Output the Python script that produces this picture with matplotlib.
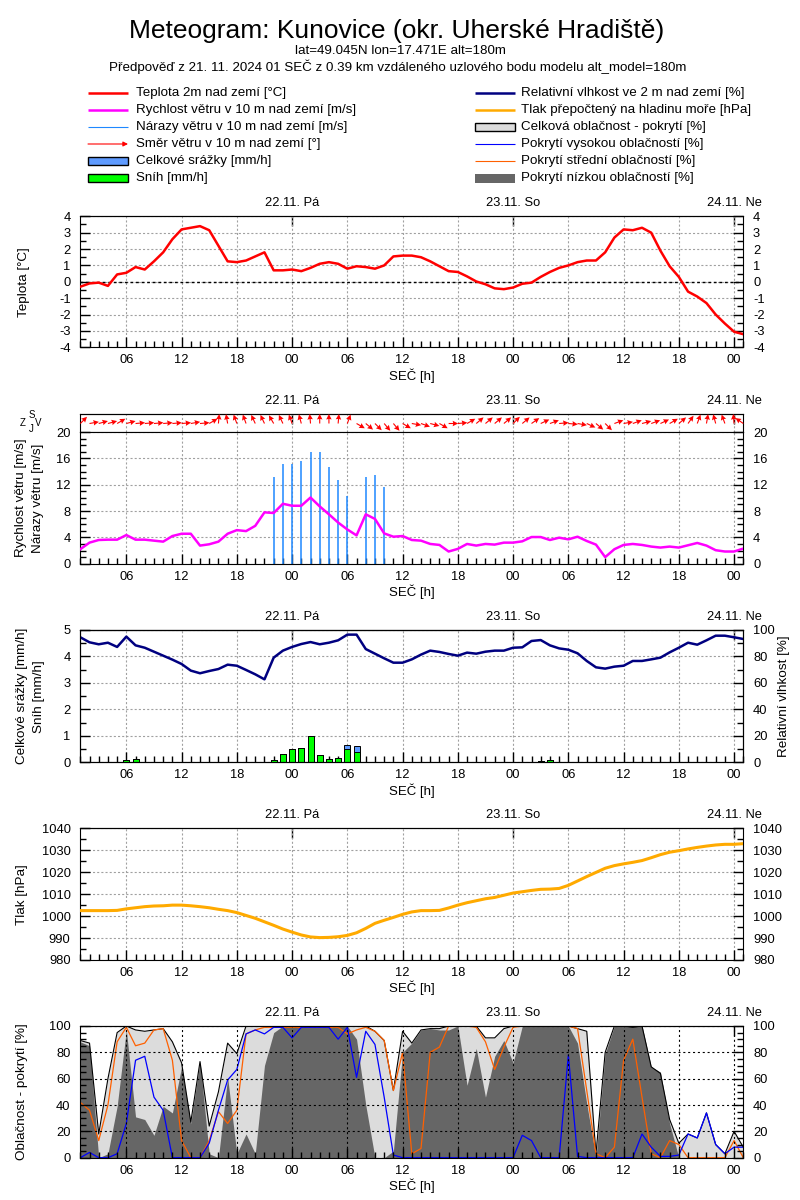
import numpy as np
import matplotlib
matplotlib.use('Agg')
import matplotlib.pyplot as plt
from matplotlib.ticker import MultipleLocator, NullLocator, FixedLocator
from matplotlib.patches import Rectangle

plt.rcParams['font.family'] = ['Liberation Sans', 'DejaVu Sans']
plt.rcParams['lines.scale_dashes'] = False
plt.rcParams['axes.unicode_minus'] = False

# ---------------- data (hours since 21.11. 00 SEČ) ----------------
hours = np.arange(1, 74)
xtick_pos = list(range(6, 73, 6))
xtick_labels = ['06', '12', '18', '00', '06', '12', '18', '00', '06', '12', '18', '00']
date_pos = [24, 48, 72]
date_labels = ['22.11. Pá', '23.11. So', '24.11. Ne']

temperature = [-0.3, -0.1, -0.05, -0.25, 0.45, 0.55, 0.9, 0.75, 1.25, 1.8,
               2.6, 3.2, 3.3, 3.4, 3.15, 2.2, 1.25, 1.2, 1.3, 1.55,
               1.8, 0.7, 0.7, 0.75, 0.65, 0.85, 1.1, 1.2, 1.1, 0.8,
               0.95, 0.9, 0.8, 1.0, 1.55, 1.6, 1.6, 1.5, 1.25, 0.95,
               0.65, 0.6, 0.33, 0.02, -0.15, -0.4, -0.45, -0.35, -0.12, -0.05,
               0.3, 0.6, 0.85, 1.0, 1.2, 1.3, 1.3, 1.8, 2.7, 3.2,
               3.15, 3.3, 3.0, 1.9, 0.95, 0.3, -0.6, -0.9, -1.3, -2.0,
               -2.55, -3.05, -3.2]

wind_speed = [2.2, 3.2, 3.6, 3.65, 3.65, 4.35, 3.65, 3.65, 3.5, 3.35,
              4.2, 4.55, 4.55, 2.75, 2.95, 3.35, 4.55, 5.1, 4.95, 5.75,
              7.8, 7.7, 9.1, 8.8, 8.8, 10.05, 8.7, 7.5, 6.25, 5.2,
              4.3, 7.5, 6.8, 4.6, 4.1, 4.2, 3.6, 3.5, 3.0, 2.85,
              1.85, 2.25, 3.0, 2.75, 3.0, 2.9, 3.2, 3.2, 3.4, 4.05,
              4.05, 3.6, 3.95, 3.7, 4.1, 3.45, 2.9, 1.0, 2.2, 2.85,
              3.0, 2.85, 2.6, 2.45, 2.6, 2.45, 2.8, 3.15, 2.75, 2.05,
              1.85, 1.85, 2.3]

wind_dir = [225, 260, 255, 255, 240, 255, 265, 265, 265, 265,
            265, 265, 260, 265, 240, 185, 170, 160, 160, 155,
            155, 150, 155, 160, 165, 175, 180, 180, 185, 200,
            300, 310, 315, 320, 320, 300, 280, 290, 285, 300,
            270, 265, 240, 230, 230, 230, 230, 225, 230, 235,
            245, 250, 265, 275, 280, 295, 310, 315, 250, 260,
            250, 255, 250, 245, 240, 230, 215, 200, 190, 165,
            160, 175, 125]

gust_hours = [22, 23, 24, 25, 26, 27, 28, 29, 30, 32, 33, 34]
gust = [13.2, 15.2, 15.1, 15.6, 16.9, 16.9, 14.7, 12.7, 10.3, 13.2, 13.4, 11.6]

precip_hours = [6, 7, 22, 23, 24, 25, 26, 27, 28, 29, 30, 31, 32, 51, 52, 53, 54]
precip_total = [0.07, 0.12, 0.1, 0.32, 0.5, 0.55, 1.0, 0.27, 0.13, 0.17, 0.66, 0.6, 0.03,
                0.05, 0.08, 0.03, 0.03]
snow = [0.07, 0.12, 0.1, 0.32, 0.5, 0.55, 0.98, 0.27, 0.13, 0.17, 0.52, 0.38, 0.03,
        0.05, 0.08, 0.03, 0.03]

rel_humidity = [94.5, 90.7, 89.2, 90.4, 87.2, 95, 88.4, 86.6, 83.6, 80.6,
                77.6, 74.3, 69.3, 67.3, 69, 70.5, 73.8, 73, 69.8, 66.5,
                62.7, 79.1, 84.4, 87.2, 89.4, 90.9, 89.2, 90.4, 92.2, 96.5,
                96.5, 85.6, 82.1, 78.6, 75.3, 75.3, 77.8, 81.4, 84.4, 83.4,
                81.9, 80.6, 82.9, 82.1, 83.6, 84.4, 84.4, 86.6, 86.9, 91.7,
                92.4, 88.4, 86.1, 85.1, 82.4, 76.6, 71.8, 70.8, 72.3, 73,
                76.6, 76.6, 77.8, 79.1, 83.1, 86.6, 90.4, 88.9, 92.2, 95.7,
                95.7, 94.5, 93.2]

pressure = [1002.5, 1002.5, 1002.5, 1002.5, 1002.6, 1003.3, 1003.8, 1004.3, 1004.6, 1004.7,
            1005.0, 1005.0, 1004.7, 1004.3, 1003.8, 1003.1, 1002.5, 1001.6, 1000.3, 999.0,
            997.4, 995.8, 994.1, 992.7, 991.4, 990.5, 990.2, 990.3, 990.6, 991.2,
            992.4, 994.4, 996.7, 998.1, 999.4, 1000.8, 1001.9, 1002.5, 1002.5, 1002.6,
            1003.7, 1005.0, 1006.1, 1007.0, 1007.9, 1008.5, 1009.5, 1010.5, 1011.1, 1011.7,
            1012.2, 1012.3, 1012.6, 1014.0, 1016.0, 1018.0, 1019.9, 1021.8, 1023.0, 1023.8,
            1024.5, 1025.3, 1026.6, 1028.0, 1029.1, 1029.8, 1030.6, 1031.3, 1031.9, 1032.4,
            1032.7, 1032.7, 1033.0]

cloud_total = [89, 87, 18, 60, 95, 100, 97, 96, 97, 98,
               88, 72, 27, 73, 24, 50, 87, 79, 100, 100,
               100, 100, 100, 100, 100, 100, 100, 100, 100, 100,
               100, 100, 96, 89, 51, 96, 87, 97, 98, 98,
               100, 100, 100, 100, 91, 91, 98, 100, 100, 100,
               100, 100, 100, 100, 98, 96, 3, 80, 100, 100,
               99, 100, 69, 64, 29, 11, 18, 15, 34, 10,
               3, 20, 8]
cloud_low = [88, 85, 0, 3, 39, 97, 31, 29, 17, 39,
             34, 69, 26, 73, 3, 0, 61, 3, 18, 3,
             70, 95, 100, 100, 100, 100, 100, 100, 100, 100,
             90, 40, 0, 0, 5, 80, 87, 97, 98, 97,
             97, 100, 55, 83, 46, 77, 89, 72, 100, 100,
             100, 100, 100, 100, 87, 41, 0, 79, 100, 100,
             100, 100, 69, 65, 26, 0, 0, 0, 0, 0,
             0, 0, 0]
cloud_mid = [42, 36, 13, 40, 88, 99, 85, 87, 97, 98,
             74, 13, 0, 0, 13, 35, 26, 36, 94, 97,
             99, 99, 99, 99, 99, 99, 99, 99, 99, 94,
             97, 99, 96, 89, 51, 80, 3, 7, 80, 84,
             100, 100, 100, 99, 88, 67, 84, 99, 100, 100,
             100, 100, 100, 100, 98, 51, 3, 0, 8, 74,
             90, 46, 3, 0, 13, 10, 0, 0, 0, 0,
             0, 13, 0]
cloud_high = [0, 4, 0, 0, 3, 26, 74, 77, 46, 36,
              0, 0, 0, 0, 11, 36, 59, 67, 94, 97,
              94, 99, 99, 91, 99, 99, 99, 99, 90, 99,
              61, 96, 86, 46, 2, 0, 0, 0, 0, 0,
              0, 0, 0, 0, 0, 0, 0, 0, 17, 13,
              0, 0, 0, 78, 1, 0, 0, 0, 0, 0,
              0, 18, 8, 1, 1, 2, 18, 15, 34, 10,
              3, 8, 8]

# ---------------- colours ----------------
C_TEMP = '#ff0000'
C_WIND = '#ff00ff'
C_GUST = '#1e88ff'
C_DIR = '#ff0000'
C_PREC = '#5f9bff'
C_SNOW = '#00ff00'
C_RH = '#000080'
C_PRES = '#ffaa00'
C_TOT = '#dcdcdc'
C_HIGH = '#0000ff'
C_MID = '#ff6000'
C_LOW = '#666666'

legend_left = [
    ('Teplota 2m nad zemí [°C]', 'line', C_TEMP, 1.8),
    ('Rychlost větru v 10 m nad zemí [m/s]', 'line', C_WIND, 1.8),
    ('Nárazy větru v 10 m nad zemí [m/s]', 'line', C_GUST, 0.8),
    ('Směr větru v 10 m nad zemí [°]', 'arrow', C_DIR, 0.8),
    ('Celkové srážky [mm/h]', 'box', C_PREC, 1.0),
    ('Sníh [mm/h]', 'box', C_SNOW, 1.0),
]
legend_right = [
    ('Relativní vlhkost ve 2 m nad zemí [%]', 'line', C_RH, 1.8),
    ('Tlak přepočtený na hladinu moře [hPa]', 'line', C_PRES, 1.8),
    ('Celková oblačnost - pokrytí [%]', 'box', C_TOT, 1.0),
    ('Pokrytí vysokou oblačností [%]', 'line', C_HIGH, 0.8),
    ('Pokrytí střední oblačností [%]', 'line', C_MID, 0.8),
    ('Pokrytí nízkou oblačností [%]', 'fill', C_LOW, 0.0),
]

# ---------------- figure ----------------
W, H = 800, 1200
fig = plt.figure(figsize=(8, 12), dpi=100)
L, R = 80.3, 743.3


def rect(top, bottom, left=L, right=R):
    return [left / W, 1 - bottom / H, (right - left) / W, (bottom - top) / H]


# overlay for free text / legend, in pixel coordinates
lax = fig.add_axes([0, 0, 1, 1], zorder=-5)
lax.set_xlim(0, W)
lax.set_ylim(H, 0)
lax.axis('off')

GRID = dict(color='#a0a0a0', linestyle=(0, (1.5, 1.5)), linewidth=0.8)
TICK_FS = 9.3


def style_x(ax):
    ax.set_xlim(1, 73)
    ax.set_xticks(xtick_pos, labels=xtick_labels)
    ax.xaxis.set_minor_locator(MultipleLocator(1))
    ax.tick_params(axis='x', which='major', direction='in', length=7, width=1,
                   top=False, labelsize=TICK_FS, pad=5)
    ax.tick_params(axis='x', which='minor', direction='in', length=4, width=1, top=False)


def add_dates(ax):
    sec = ax.secondary_xaxis('top')
    sec.set_xticks(date_pos, labels=date_labels)
    sec.xaxis.set_minor_locator(NullLocator())
    sec.tick_params(direction='in', length=7, width=1, labelsize=TICK_FS, pad=5)


def style_y(ax, lo, hi, major, minor, right=True):
    ax.set_ylim(lo, hi)
    ax.yaxis.set_major_locator(MultipleLocator(major))
    ax.yaxis.set_minor_locator(MultipleLocator(minor))
    ax.tick_params(axis='y', which='both', direction='in', left=True, right=right,
                   labelleft=True, labelright=right, labelsize=TICK_FS, pad=7)
    ax.tick_params(axis='y', which='major', length=7, width=1)
    ax.tick_params(axis='y', which='minor', length=4, width=1)


def xlabel(ax_bottom):
    lax.text((L + R) / 2, ax_bottom + 28, 'SEČ [h]', ha='center', va='center', fontsize=9.5)


# ---- title ----
lax.text(397, 38.3, 'Meteogram: Kunovice (okr. Uherské Hradiště)', ha='center',
         va='baseline', fontsize=19)
lax.text(400, 54.5, 'lat=49.045N lon=17.471E alt=180m', ha='center', va='baseline', fontsize=9.6)
lax.text(397.5, 71.5, 'Předpověď z 21. 11. 2024 01 SEČ z 0.39 km vzdáleného uzlového bodu '
         'modelu alt_model=180m', ha='center', va='baseline', fontsize=9.6)

# ---- legend ----
rows = [93, 110, 127, 144, 161, 178]
for (col, x0, x1, xt) in [(legend_left, 88, 128, 136), (legend_right, 475, 515, 521)]:
    for (label, kind, color, lw), y in zip(col, rows):
        if kind == 'line':
            lax.plot([x0, x1], [y, y], color=color, lw=lw, solid_capstyle='butt')
        elif kind == 'arrow':
            lax.annotate('', xy=(x1, y), xytext=(x0, y),
                         arrowprops=dict(arrowstyle='-|>', color=color, lw=lw,
                                         mutation_scale=7, shrinkA=0, shrinkB=0))
        elif kind == 'box':
            lax.add_patch(Rectangle((x0, y - 4.3), x1 - x0, 8.6, facecolor=color,
                                    edgecolor='black', lw=lw))
        else:
            lax.add_patch(Rectangle((x0, y - 4.5), x1 - x0, 9, facecolor=color, edgecolor='none'))
        lax.text(xt, y, label, ha='left', va='center', fontsize=9.6)

# ---------------- panel 1: temperature ----------------
ax1 = fig.add_axes(rect(216.3, 347.3))
ax1.plot(hours, temperature, color=C_TEMP, lw=1.8, zorder=3)
ax1.axhline(0, color='black', lw=1, ls=(0, (2, 2)), zorder=2)
style_x(ax1)
style_y(ax1, -4, 4, 1, 0.5)
ax1.grid(True, which='major', **GRID)
add_dates(ax1)
xlabel(347.3)
lax.text(24, (216.3 + 347.3) / 2, 'Teplota [°C]', rotation=90, ha='center', va='center', fontsize=9.7)

# ---------------- panel 2: wind ----------------
axs = fig.add_axes(rect(414.3, 432))
axs.set_xlim(1, 73)
axs.set_ylim(0, 1)
axs.set_yticks([])
axs.set_xticks(xtick_pos)
axs.tick_params(axis='x', which='both', bottom=False, labelbottom=False)
axs.grid(True, axis='x', **GRID)
screen_angle = 90 - (np.array(wind_dir) + 180)
axs.quiver(hours, np.full(len(hours), 0.48), np.ones(len(hours)), np.zeros(len(hours)),
           angles=screen_angle, units='dots', scale_units='dots', scale=1 / 9.5, width=1.1,
           headwidth=5, headlength=5, headaxislength=4.5, pivot='tail', color=C_DIR,
           zorder=3, clip_on=False)
add_dates(axs)

ax2 = fig.add_axes(rect(432, 563.7))
ax2.vlines(gust_hours, 0, gust, color=C_GUST, lw=1.1, zorder=2)
ax2.plot(hours, wind_speed, color=C_WIND, lw=1.8, zorder=3)
style_x(ax2)
style_y(ax2, 0, 20, 4, 1)
ax2.grid(True, which='major', **GRID)
xlabel(563.7)
lax.text(21.5, (432 + 563.7) / 2, 'Rychlost větru [m/s]', rotation=90, ha='center', va='center', fontsize=9.7)
lax.text(38, (432 + 563.7) / 2, 'Nárazy větru [m/s]', rotation=90, ha='center', va='center', fontsize=9.7)
for t, x, y in [('S', 31.7, 415), ('Z', 23, 423.5), ('V', 38.5, 423.5), ('J', 31, 429)]:
    lax.text(x, y, t, ha='center', va='center', fontsize=7)

# ---------------- panel 3: precipitation + RH ----------------
ax3 = fig.add_axes(rect(630, 762.3))
ax3.bar(precip_hours, precip_total, width=0.65, color=C_PREC, edgecolor='black', lw=0.7, zorder=2)
ax3.bar(precip_hours, snow, width=0.65, color=C_SNOW, edgecolor='black', lw=0.7, zorder=2.1)
ax3r = ax3.twinx()
ax3r.plot(hours, rel_humidity, color=C_RH, lw=1.8)
style_x(ax3)
style_y(ax3, 0, 5, 1, 0.5, right=False)
ax3r.set_ylim(0, 100)
ax3r.yaxis.set_major_locator(MultipleLocator(20))
ax3r.yaxis.set_minor_locator(MultipleLocator(10))
ax3r.tick_params(axis='y', which='both', direction='in', labelsize=TICK_FS, pad=7)
ax3r.tick_params(axis='y', which='major', length=7, width=1)
ax3r.tick_params(axis='y', which='minor', length=4, width=1)
ax3.grid(True, which='major', **GRID)
add_dates(ax3)
xlabel(762.3)
lax.text(22, (630 + 762.3) / 2, 'Celkové srážky [mm/h]', rotation=90, ha='center', va='center', fontsize=9.7)
lax.text(39, (630 + 762.3) / 2, 'Sníh [mm/h]', rotation=90, ha='center', va='center', fontsize=9.7)
lax.text(784, (630 + 762.3) / 2, 'Relativní vlhkost [%]', rotation=90, ha='center', va='center', fontsize=9.7)

# ---------------- panel 4: pressure ----------------
ax4 = fig.add_axes(rect(828.3, 960))
ax4.plot(hours, pressure, color=C_PRES, lw=2.2, zorder=3)
style_x(ax4)
style_y(ax4, 980, 1040, 10, 5)
ax4.grid(True, which='major', **GRID)
add_dates(ax4)
xlabel(960)
lax.text(22.5, (828.3 + 960) / 2, 'Tlak [hPa]', rotation=90, ha='center', va='center', fontsize=9.7)

# ---------------- panel 5: clouds ----------------
ax5 = fig.add_axes(rect(1026, 1157.7))
ax5.fill_between(hours, 0, cloud_total, color=C_TOT, lw=0, zorder=1)
ax5.fill_between(hours, 0, cloud_low, color=C_LOW, lw=0, zorder=1.1)
ax5.plot(hours, cloud_total, color='black', lw=0.8, zorder=2)
ax5.plot(hours, cloud_mid, color=C_MID, lw=0.9, zorder=2.2)
ax5.plot(hours, cloud_high, color=C_HIGH, lw=0.9, zorder=2.3)
style_x(ax5)
style_y(ax5, 0, 100, 20, 5)
ax5.set_axisbelow(False)
ax5.grid(True, which='major', color='black', linestyle=(0, (1.5, 2)), linewidth=0.8)
add_dates(ax5)
xlabel(1157.7)
lax.text(22.5, (1026 + 1157.7) / 2, 'Oblačnost - pokrytí [%]', rotation=90, ha='center', va='center', fontsize=9.7)

fig.savefig('out.png', dpi=100)
